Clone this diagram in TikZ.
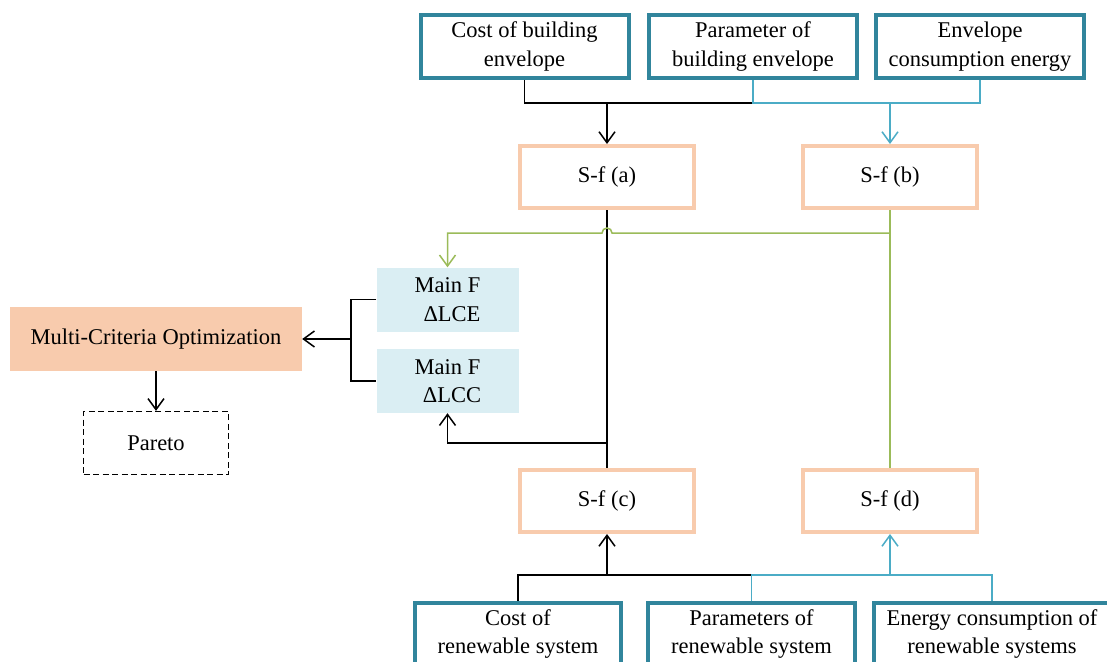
\documentclass[tikz,border=0pt]{standalone}
\usepackage{fontspec}
\setmainfont{Liberation Serif}
\usetikzlibrary{arrows.meta}

\definecolor{tealb}{HTML}{31859C}
\definecolor{peach}{HTML}{F8CBAD}
\definecolor{lblue}{HTML}{DAEEF3}
\definecolor{grnl}{HTML}{9BBB59}
\definecolor{cynl}{HTML}{4BACC6}

\tikzset{
  txt/.style={inner sep=0pt, align=center, font=\fontsize{22.5}{28.5}\selectfont},
  inbox/.style={txt, draw=tealb, line width=4pt, fill=white,
                minimum width=208pt, minimum height=63pt},
  sfbox/.style={txt, draw=peach, line width=4pt, fill=white,
                minimum width=174pt, minimum height=62pt},
  mainbox/.style={txt, fill=lblue, minimum width=142pt, minimum height=64pt},
  mcbox/.style={txt, fill=peach, minimum width=292pt, minimum height=64pt},
  paretobox/.style={txt, draw=black, line width=1.3pt, dash pattern=on 6pt off 3.5pt,
                minimum width=145pt, minimum height=63pt},
  blk/.style={draw=black, line width=1.5pt},
  cyn/.style={draw=cynl, line width=1.5pt},
  grn/.style={draw=grnl, line width=1.5pt},
  tip/.style={-{Straight Barb[length=11pt,width=16pt]}},
}

\begin{document}
\begin{tikzpicture}[x=1pt, y=-1pt]
  \fill[white] (0,0) rectangle (1107,661);
  \useasboundingbox (0,0) rectangle (1107,661);

  % input boxes, building envelope
  \node[inbox] (t1) at (524.5,46.5) {Cost of building\\envelope};
  \node[inbox] (t2) at (753,46.5) {Parameter of\\building envelope};
  \node[inbox] (t3) at (980,46.5) {Envelope\\consumption energy};

  % sub-functions
  \node[sfbox] (sa) at (607,177) {S-f (a)};
  \node[sfbox] (sb) at (890,177) {S-f (b)};
  \node[sfbox] (sc) at (607,501) {S-f (c)};
  \node[sfbox] (sd) at (890,501) {S-f (d)};

  % main functions
  \node[mainbox] (lce) at (447.5,299.5) {Main F\\\hspace{0.4em}ΔLCE};
  \node[mainbox] (lcc) at (447.5,381) {Main F\\\hspace{0.4em}ΔLCC};

  % optimisation and result
  \node[mcbox] (mc) at (156,339) {Multi-Criteria Optimization};
  \node[paretobox] (par) at (156,443) {Pareto};

  % input boxes, renewable systems
  \node[inbox, minimum width=206pt] (b1) at (518,634) {Cost of\\renewable system};
  \node[inbox, minimum width=207pt] (b2) at (751.5,634) {Parameters of\\renewable system};
  \node[inbox, minimum width=236pt] (b3) at (992,634) {Energy consumption of\\renewable systems};

  % junction levels
  \coordinate (jt) at (0,103);
  \coordinate (jg) at (0,233);
  \coordinate (jl) at (0,443);
  \coordinate (jb) at (0,575);
  \coordinate (bx) at (351,0);
  \coordinate (hopR) at (612,233);

  % top inputs to S-f (a) and S-f (b)
  \draw[blk] (t1.south) |- (t2.south |- jt);
  \draw[cyn] (t2.south) -- (t2.south |- jt) -| (t3.south);
  \draw[blk, tip] (sa.north |- jt) -- (sa.north);
  \draw[cyn, tip] (sb.north |- jt) -- (sb.north);

  % vertical links between sub-functions
  \draw[blk] (sa.south) -- (sc.north);
  \draw[grn] (sb.south) -- (sd.north);

  % energy branch, hopping over the cost line
  \draw[grn, tip] (sb.south |- jg) -- (hopR)
    arc[start angle=0, end angle=-180, radius=5] -- (lce.north |- jg) -- (lce.north);

  % cost branch
  \draw[blk, tip] (sa.south |- jl) -| (lcc.south);

  % main functions to the optimisation
  \draw[blk] (lce.west) -- (lce.west -| bx) -- (lcc.west -| bx) -- (lcc.west);
  \draw[blk, tip] (bx |- mc.east) -- (mc.east);
  \draw[blk, tip] (mc.south) -- (par.north);

  % bottom inputs to S-f (c) and S-f (d)
  \draw[blk] (b1.north) |- (b2.north |- jb);
  \draw[cyn] (b2.north) -- (b2.north |- jb) -| (b3.north);
  \draw[blk, tip] (sc.south |- jb) -- (sc.south);
  \draw[cyn, tip] (sd.south |- jb) -- (sd.south);
\end{tikzpicture}
\end{document}
